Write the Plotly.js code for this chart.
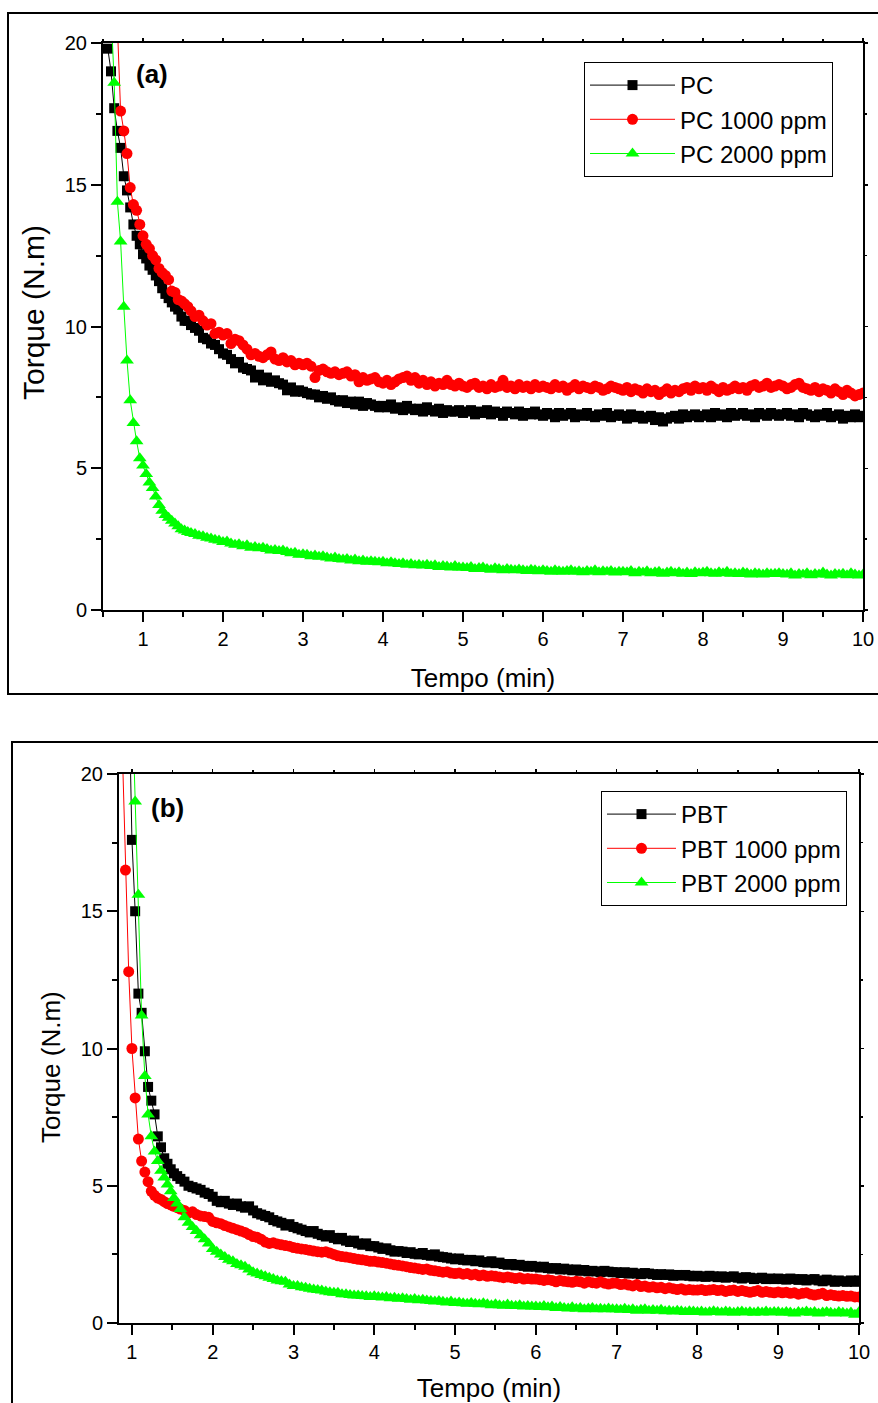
<!DOCTYPE html>
<html>
<head>
<meta charset="utf-8">
<script src="https://cdn.plot.ly/plotly-3.0.1.min.js"></script>
<style>html,body{margin:0;padding:0;background:#fff;}#chart{width:878px;height:1403px;}</style>
</head>
<body>
<div id="chart"></div>
<script>
// ---- time grids (min) ----
const timeHeadA = [0.56,0.60,0.64,0.68,0.72,0.76,0.80,0.84,0.88,0.92,0.96,1.00,1.04,1.08,1.12,1.16,1.20,1.24,1.28,1.32,1.36,1.40,1.44,1.48,1.52,1.56,1.60];
const timeHeadB = [0.88,0.92,0.96,1.00,1.04,1.08,1.12,1.16,1.20,1.24,1.28,1.32,1.36,1.40,1.44,1.48,1.52,1.56,1.60];
const timeTail = [
1.65,1.70,1.75,1.80,1.85,1.90,1.95,
2.00,2.05,2.10,2.15,2.20,2.25,2.30,2.35,2.40,2.45,2.50,2.55,2.60,2.65,2.70,2.75,2.80,2.85,2.90,2.95,
3.00,3.05,3.10,3.15,3.20,3.25,3.30,3.35,3.40,3.45,3.50,3.55,3.60,3.65,3.70,3.75,3.80,3.85,3.90,3.95,
4.00,4.05,4.10,4.15,4.20,4.25,4.30,4.35,4.40,4.45,4.50,4.55,4.60,4.65,4.70,4.75,4.80,4.85,4.90,4.95,
5.00,5.05,5.10,5.15,5.20,5.25,5.30,5.35,5.40,5.45,5.50,5.55,5.60,5.65,5.70,5.75,5.80,5.85,5.90,5.95,
6.00,6.05,6.10,6.15,6.20,6.25,6.30,6.35,6.40,6.45,6.50,6.55,6.60,6.65,6.70,6.75,6.80,6.85,6.90,6.95,
7.00,7.05,7.10,7.15,7.20,7.25,7.30,7.35,7.40,7.45,7.50,7.55,7.60,7.65,7.70,7.75,7.80,7.85,7.90,7.95,
8.00,8.05,8.10,8.15,8.20,8.25,8.30,8.35,8.40,8.45,8.50,8.55,8.60,8.65,8.70,8.75,8.80,8.85,8.90,8.95,
9.00,9.05,9.10,9.15,9.20,9.25,9.30,9.35,9.40,9.45,9.50,9.55,9.60,9.65,9.70,9.75,9.80,9.85,9.90,9.95,
10.00];

// ---- (a) torque (N.m) ----
const pc = [
19.8,19.0,17.7,16.9,16.3,15.3,14.8,14.2,13.6,13.2,12.9,12.55,12.4,12.15,12.0,11.8,11.6,11.35,11.15,11.0,10.85,10.7,10.6,10.35,10.2,10.2,10.05,
9.95,9.85,9.6,9.55,9.4,9.35,9.2,
9.05,9.0,8.85,8.7,8.75,8.55,8.5,8.45,8.2,8.3,8.1,8.2,8.05,8.1,8.0,7.95,7.75,7.85,7.7,7.75,
7.7,7.65,7.6,7.6,7.5,7.55,7.45,7.5,7.4,7.35,7.4,7.3,7.35,7.25,7.35,7.2,7.3,7.25,7.2,7.15,
7.2,7.15,7.25,7.1,7.15,7.05,7.2,7.1,7.05,7.1,7.0,7.15,7.05,7.0,7.1,6.95,7.05,7.0,7.0,7.05,
6.95,7.0,7.05,6.9,7.0,6.95,7.05,6.9,7.0,6.95,6.85,7.0,6.95,6.9,7.0,6.85,6.95,6.9,7.0,6.9,
6.85,6.95,6.9,6.8,6.95,6.85,6.9,6.95,6.8,6.9,6.85,6.95,6.85,6.8,6.9,6.85,6.95,6.8,6.85,6.9,
6.85,6.75,6.9,6.8,6.85,6.75,6.8,6.85,6.7,6.8,6.65,6.75,6.8,6.85,6.75,6.9,6.8,6.85,6.9,6.8,
6.85,6.9,6.8,6.95,6.85,6.9,6.8,6.95,6.85,6.9,6.95,6.85,6.9,6.8,6.95,6.9,6.85,6.95,6.9,6.85,
6.9,6.95,6.85,6.9,6.8,6.95,6.9,6.85,6.8,6.9,6.85,6.95,6.8,6.85,6.9,6.75,6.85,6.8,6.9,6.8,
6.85];
const pc1000 = [
null,null,null,20.6,17.6,16.9,16.1,14.9,14.3,14.1,13.6,13.2,12.9,12.75,12.5,12.35,12.05,11.9,11.8,11.65,11.25,11.2,10.95,10.9,10.8,10.7,10.55,
10.35,10.4,10.2,10.05,10.1,9.75,9.8,
9.7,9.75,9.4,9.55,9.5,9.35,9.2,9.0,9.05,8.95,8.9,9.0,9.1,8.85,8.8,8.9,8.75,8.8,8.65,8.7,
8.65,8.7,8.6,8.2,8.45,8.5,8.4,8.35,8.4,8.3,8.35,8.4,8.25,8.3,8.05,8.2,8.1,8.15,8.2,8.05,
8.0,8.1,7.95,8.05,8.15,8.2,8.25,8.1,8.2,8.0,8.1,7.95,8.05,7.9,8.0,7.95,8.1,7.95,7.9,8.0,
7.9,7.85,7.95,8.0,7.85,7.9,7.8,7.95,7.85,7.9,8.1,7.85,7.9,7.8,7.95,7.85,7.9,7.8,7.95,7.85,
7.9,7.85,7.8,7.95,7.85,7.9,7.75,7.85,7.95,7.8,7.9,7.85,7.8,7.9,7.85,7.75,7.8,7.9,7.85,7.8,
7.75,7.85,7.7,7.8,7.75,7.65,7.8,7.7,7.75,7.6,7.7,7.8,7.65,7.75,7.7,7.8,7.85,7.75,7.9,7.8,
7.85,7.75,7.9,7.8,7.7,7.85,7.75,7.8,7.9,7.8,7.85,7.75,7.9,7.95,7.85,7.9,8.0,7.85,7.9,7.95,
7.9,7.8,7.85,7.95,8.0,7.85,7.8,7.75,7.85,7.7,7.8,7.75,7.65,7.8,7.7,7.6,7.75,7.65,7.55,7.6,
7.65];
const pc2000 = [
null,21.2,18.6,14.4,13.0,10.7,8.8,7.4,6.6,5.95,5.35,5.1,4.8,4.5,4.3,4.0,3.7,3.5,3.35,3.25,3.15,3.05,2.95,2.85,2.8,2.75,2.72,
2.68,2.62,2.6,2.55,2.52,2.48,2.45,
2.4,2.42,2.35,2.3,2.32,2.25,2.28,2.2,2.22,2.18,2.2,2.15,2.1,2.12,2.08,2.1,2.05,2.0,2.02,1.95,
1.97,1.95,1.9,1.92,1.88,1.9,1.85,1.82,1.85,1.8,1.78,1.8,1.75,1.78,1.72,1.75,1.7,1.72,1.7,1.68,
1.7,1.65,1.68,1.65,1.62,1.65,1.6,1.62,1.58,1.6,1.57,1.6,1.55,1.58,1.52,1.55,1.53,1.5,1.55,1.5,
1.5,1.48,1.52,1.45,1.48,1.5,1.45,1.42,1.47,1.45,1.4,1.45,1.42,1.4,1.43,1.4,1.38,1.42,1.4,1.37,
1.4,1.38,1.35,1.4,1.37,1.35,1.38,1.4,1.35,1.37,1.33,1.38,1.35,1.4,1.33,1.37,1.35,1.38,1.32,1.35,
1.35,1.33,1.38,1.3,1.35,1.32,1.37,1.3,1.33,1.35,1.28,1.32,1.35,1.3,1.33,1.28,1.32,1.27,1.33,1.3,
1.32,1.35,1.3,1.28,1.33,1.3,1.35,1.28,1.3,1.27,1.32,1.3,1.25,1.3,1.28,1.25,1.3,1.27,1.28,1.3,
1.27,1.25,1.3,1.22,1.27,1.25,1.3,1.23,1.27,1.25,1.32,1.25,1.22,1.27,1.25,1.28,1.23,1.3,1.25,1.22,
1.25];

// ---- (b) torque (N.m) ----
const pbt = [
null,null,23.5,17.6,15.0,12.0,11.3,9.9,8.6,8.1,7.6,6.8,6.4,6.0,5.8,5.6,5.45,5.35,5.25,
5.15,5.0,4.95,4.9,4.85,4.75,4.7,
4.6,4.45,4.4,4.45,4.35,4.3,4.35,4.25,4.2,4.25,4.1,4.0,3.95,3.9,3.85,3.75,3.7,3.65,3.55,3.6,
3.5,3.45,3.4,3.35,3.3,3.35,3.25,3.2,3.15,3.2,3.1,3.05,3.1,3.0,2.95,3.0,2.9,2.85,2.9,2.8,
2.8,2.75,2.7,2.72,2.65,2.6,2.62,2.6,2.55,2.58,2.52,2.5,2.55,2.48,2.45,2.5,2.42,2.4,2.38,2.35,
2.32,2.35,2.3,2.28,2.3,2.25,2.28,2.22,2.2,2.25,2.18,2.2,2.15,2.12,2.15,2.1,2.12,2.08,2.05,2.08,
2.05,2.02,2.05,2.0,1.98,2.0,1.95,1.98,1.95,1.92,1.95,1.9,1.93,1.88,1.9,1.88,1.85,1.9,1.87,1.85,
1.85,1.82,1.85,1.8,1.83,1.8,1.78,1.82,1.8,1.78,1.75,1.78,1.75,1.77,1.72,1.75,1.73,1.75,1.72,1.7,
1.72,1.7,1.68,1.72,1.7,1.67,1.7,1.65,1.68,1.7,1.65,1.62,1.67,1.65,1.6,1.63,1.65,1.6,1.62,1.6,
1.62,1.6,1.58,1.62,1.6,1.57,1.6,1.55,1.58,1.6,1.55,1.52,1.58,1.55,1.5,1.55,1.52,1.5,1.55,1.5,
1.55];
const pbt1000 = [
21.0,16.5,12.8,10.0,8.2,6.7,5.9,5.5,5.15,4.8,4.65,4.55,4.5,4.42,4.35,4.3,4.25,4.2,4.15,
4.1,4.0,4.05,3.95,3.9,3.88,3.85,
3.7,3.65,3.62,3.55,3.5,3.45,3.4,3.35,3.3,3.22,3.15,3.12,3.05,2.95,2.9,2.92,2.88,2.85,2.82,2.8,
2.75,2.72,2.7,2.68,2.65,2.62,2.6,2.58,2.6,2.55,2.5,2.45,2.42,2.4,2.38,2.35,2.32,2.3,2.28,2.25,
2.25,2.22,2.2,2.18,2.15,2.12,2.1,2.08,2.05,2.02,2.0,1.98,1.95,1.97,1.92,1.9,1.88,1.85,1.87,1.82,
1.8,1.82,1.78,1.8,1.75,1.78,1.72,1.75,1.7,1.72,1.7,1.68,1.65,1.68,1.65,1.62,1.65,1.6,1.62,1.6,
1.6,1.58,1.55,1.58,1.55,1.5,1.55,1.52,1.5,1.48,1.52,1.5,1.45,1.5,1.47,1.45,1.5,1.45,1.42,1.45,
1.45,1.4,1.42,1.38,1.35,1.4,1.33,1.35,1.3,1.32,1.28,1.3,1.25,1.28,1.25,1.22,1.25,1.2,1.22,1.2,
1.2,1.22,1.18,1.2,1.22,1.18,1.2,1.15,1.18,1.2,1.15,1.18,1.15,1.12,1.15,1.18,1.12,1.15,1.12,1.1,
1.13,1.1,1.12,1.08,1.1,1.05,1.08,1.1,1.05,1.02,1.05,1.08,1.0,1.03,1.0,0.98,1.0,0.97,0.98,0.95,
0.95];
const pbt2000 = [
null,null,null,23.0,19.0,15.6,11.2,9.0,7.6,6.8,6.25,5.9,5.55,5.3,5.05,4.8,4.55,4.35,4.15,
3.85,3.65,3.5,3.35,3.2,3.05,2.9,
2.7,2.6,2.5,2.4,2.3,2.25,2.15,2.1,2.05,1.95,1.85,1.8,1.75,1.7,1.65,1.6,1.55,1.52,1.5,1.4,
1.35,1.35,1.3,1.28,1.25,1.22,1.2,1.18,1.15,1.12,1.1,1.1,1.05,1.05,1.02,1.0,1.0,0.98,0.97,0.95,
0.97,0.95,0.93,0.95,0.9,0.92,0.88,0.9,0.87,0.85,0.87,0.83,0.85,0.82,0.8,0.78,0.8,0.77,0.75,0.78,
0.73,0.75,0.72,0.7,0.73,0.7,0.68,0.72,0.68,0.65,0.68,0.65,0.63,0.67,0.63,0.62,0.65,0.6,0.62,0.6,
0.6,0.58,0.62,0.57,0.6,0.55,0.58,0.55,0.53,0.57,0.52,0.55,0.5,0.53,0.55,0.5,0.52,0.5,0.53,0.5,
0.5,0.48,0.52,0.47,0.5,0.45,0.48,0.5,0.45,0.47,0.45,0.48,0.43,0.45,0.42,0.45,0.43,0.4,0.43,0.42,
0.4,0.42,0.38,0.4,0.43,0.4,0.38,0.42,0.4,0.37,0.4,0.42,0.38,0.4,0.37,0.4,0.38,0.42,0.38,0.4,
0.4,0.37,0.4,0.38,0.35,0.4,0.38,0.42,0.37,0.4,0.35,0.38,0.4,0.37,0.35,0.4,0.37,0.35,0.38,0.3,
0.4];

const namesA = ['PC', 'PC 1000 ppm', 'PC 2000 ppm'];
const namesB = ['PBT', 'PBT 1000 ppm', 'PBT 2000 ppm'];
const xTitle = 'Tempo (min)';
const yTitle = 'Torque (N.m)';
const panelLabels = ['(a)', '(b)'];

const timeA = timeHeadA.concat(timeTail);
const timeB = timeHeadB.concat(timeTail);

const styles = [
  {color: '#000000', symbol: 'square', size: 10},
  {color: '#ff0000', symbol: 'circle', size: 11},
  {color: '#00ff00', symbol: 'triangle-up', size: 12}
];

function mk(x, y, name, st, xa, ya, lg) {
  return {
    x: x, y: y, name: name, type: 'scatter', mode: 'lines+markers',
    line: {color: st.color, width: 1},
    marker: {color: st.color, symbol: st.symbol, size: st.size, line: {width: 0}},
    xaxis: xa, yaxis: ya, legend: lg, cliponaxis: true, hoverinfo: 'skip'
  };
}
function ghost(xa, ya) {
  return {x: [null], y: [null], type: 'scatter', mode: 'markers', xaxis: xa, yaxis: ya,
          showlegend: false, hoverinfo: 'skip'};
}

const data = [
  mk(timeA, pc, namesA[0], styles[0], 'x', 'y', 'legend'),
  mk(timeA, pc1000, namesA[1], styles[1], 'x', 'y', 'legend'),
  mk(timeA, pc2000, namesA[2], styles[2], 'x', 'y', 'legend'),
  mk(timeB, pbt, namesB[0], styles[0], 'x2', 'y2', 'legend2'),
  mk(timeB, pbt1000, namesB[1], styles[1], 'x2', 'y2', 'legend2'),
  mk(timeB, pbt2000, namesB[2], styles[2], 'x2', 'y2', 'legend2'),
  ghost('x3', 'y'), ghost('x', 'y3'), ghost('x4', 'y2'), ghost('x2', 'y4')
];

const W = 878, H = 1403;
const px = v => v / W;
const py = v => 1 - v / H;

function xax(domain, range, anchor) {
  return {
    domain: domain, range: range, anchor: anchor, autorange: false,
    tick0: 0, dtick: 1, ticks: 'outside', ticklen: 10, tickwidth: 2, tickcolor: '#000',
    minor: {dtick: 0.5, ticks: 'outside', ticklen: 5, tickwidth: 2, tickcolor: '#000'},
    showline: true, linewidth: 2, linecolor: '#000', mirror: true,
    showgrid: false, zeroline: false, automargin: false,
    tickfont: {size: 20, color: '#000'},
    title: {text: xTitle, font: {size: 26, color: '#000'}, standoff: 20}
  };
}
function yax(domain, anchor) {
  return {
    domain: domain, range: [0, 20], anchor: anchor, autorange: false,
    tick0: 0, dtick: 5, ticks: 'outside', ticklen: 10, tickwidth: 2, tickcolor: '#000',
    minor: {dtick: 2.5, ticks: 'outside', ticklen: 5, tickwidth: 2, tickcolor: '#000'},
    showline: true, linewidth: 2, linecolor: '#000', mirror: true,
    showgrid: false, zeroline: false, automargin: false,
    tickfont: {size: 20, color: '#000'}
  };
}
// short mirrored ticks on top / right
function topAx(over, anchor, range) {
  return {
    overlaying: over, anchor: anchor, side: 'top', range: range, autorange: false,
    tick0: 0, dtick: 1, ticks: 'outside', ticklen: 4, tickwidth: 1.5, tickcolor: '#000',
    minor: {dtick: 0.5, ticks: 'outside', ticklen: 3, tickwidth: 1.5, tickcolor: '#000'},
    showticklabels: false, showline: false, showgrid: false, zeroline: false, automargin: false
  };
}
function rightAx(over, anchor) {
  return {
    overlaying: over, anchor: anchor, side: 'right', range: [0, 20], autorange: false,
    tick0: 0, dtick: 5, ticks: 'outside', ticklen: 4, tickwidth: 1.5, tickcolor: '#000',
    minor: {dtick: 2.5, ticks: 'outside', ticklen: 3, tickwidth: 1.5, tickcolor: '#000'},
    showticklabels: false, showline: false, showgrid: false, zeroline: false, automargin: false
  };
}

const legStyle = {
  xanchor: 'left', yanchor: 'top', bgcolor: '#ffffff', bordercolor: '#000', borderwidth: 1,
  font: {size: 24, color: '#000'}, tracegroupgap: 0, traceorder: 'normal'
};

const layout = {
  width: W, height: H,
  margin: {l: 0, r: 0, t: 0, b: 0, pad: 0},
  paper_bgcolor: '#fff', plot_bgcolor: '#fff',
  font: {family: 'Liberation Sans, Arial, sans-serif', color: '#000'},
  showlegend: true,
  xaxis: xax([px(103), px(863)], [0.5, 10], 'y'),
  yaxis: yax([py(610), py(43)], 'x'),
  xaxis2: xax([px(119), px(859)], [0.84, 10], 'y2'),
  yaxis2: yax([py(1323), py(774)], 'x2'),
  xaxis3: topAx('x', 'y', [0.5, 10]),
  yaxis3: rightAx('y', 'x'),
  xaxis4: topAx('x2', 'y2', [0.84, 10]),
  yaxis4: rightAx('y2', 'x2'),
  legend: Object.assign({x: px(584), y: py(62), itemwidth: 85}, legStyle),
  legend2: Object.assign({x: px(601), y: py(791), itemwidth: 69}, legStyle),
  annotations: [
    {xref: 'paper', yref: 'paper', x: px(134), y: py(74), xanchor: 'left', yanchor: 'middle',
     text: '<b>' + panelLabels[0] + '</b>', showarrow: false, font: {size: 26, color: '#000'}},
    {xref: 'paper', yref: 'paper', x: px(149), y: py(808), xanchor: 'left', yanchor: 'middle',
     text: '<b>' + panelLabels[1] + '</b>', showarrow: false, font: {size: 26, color: '#000'}},
    {xref: 'paper', yref: 'paper', x: px(34), y: py(313), xanchor: 'center', yanchor: 'middle',
     textangle: -90, text: yTitle, showarrow: false, font: {size: 30, color: '#000'}},
    {xref: 'paper', yref: 'paper', x: px(51), y: py(1067), xanchor: 'center', yanchor: 'middle',
     textangle: -90, text: yTitle, showarrow: false, font: {size: 26, color: '#000'}}
  ],
  shapes: [
    {type: 'rect', xref: 'paper', yref: 'paper', x0: px(8), x1: 1.05, y0: py(694), y1: py(13),
     line: {color: '#000', width: 2}, fillcolor: 'rgba(0,0,0,0)', layer: 'below'},
    {type: 'rect', xref: 'paper', yref: 'paper', x0: px(12), x1: 1.05, y0: -0.05, y1: py(742),
     line: {color: '#000', width: 2}, fillcolor: 'rgba(0,0,0,0)', layer: 'below'}
  ]
};

Plotly.newPlot('chart', data, layout, {staticPlot: true, displayModeBar: false});
</script>
</body>
</html>
